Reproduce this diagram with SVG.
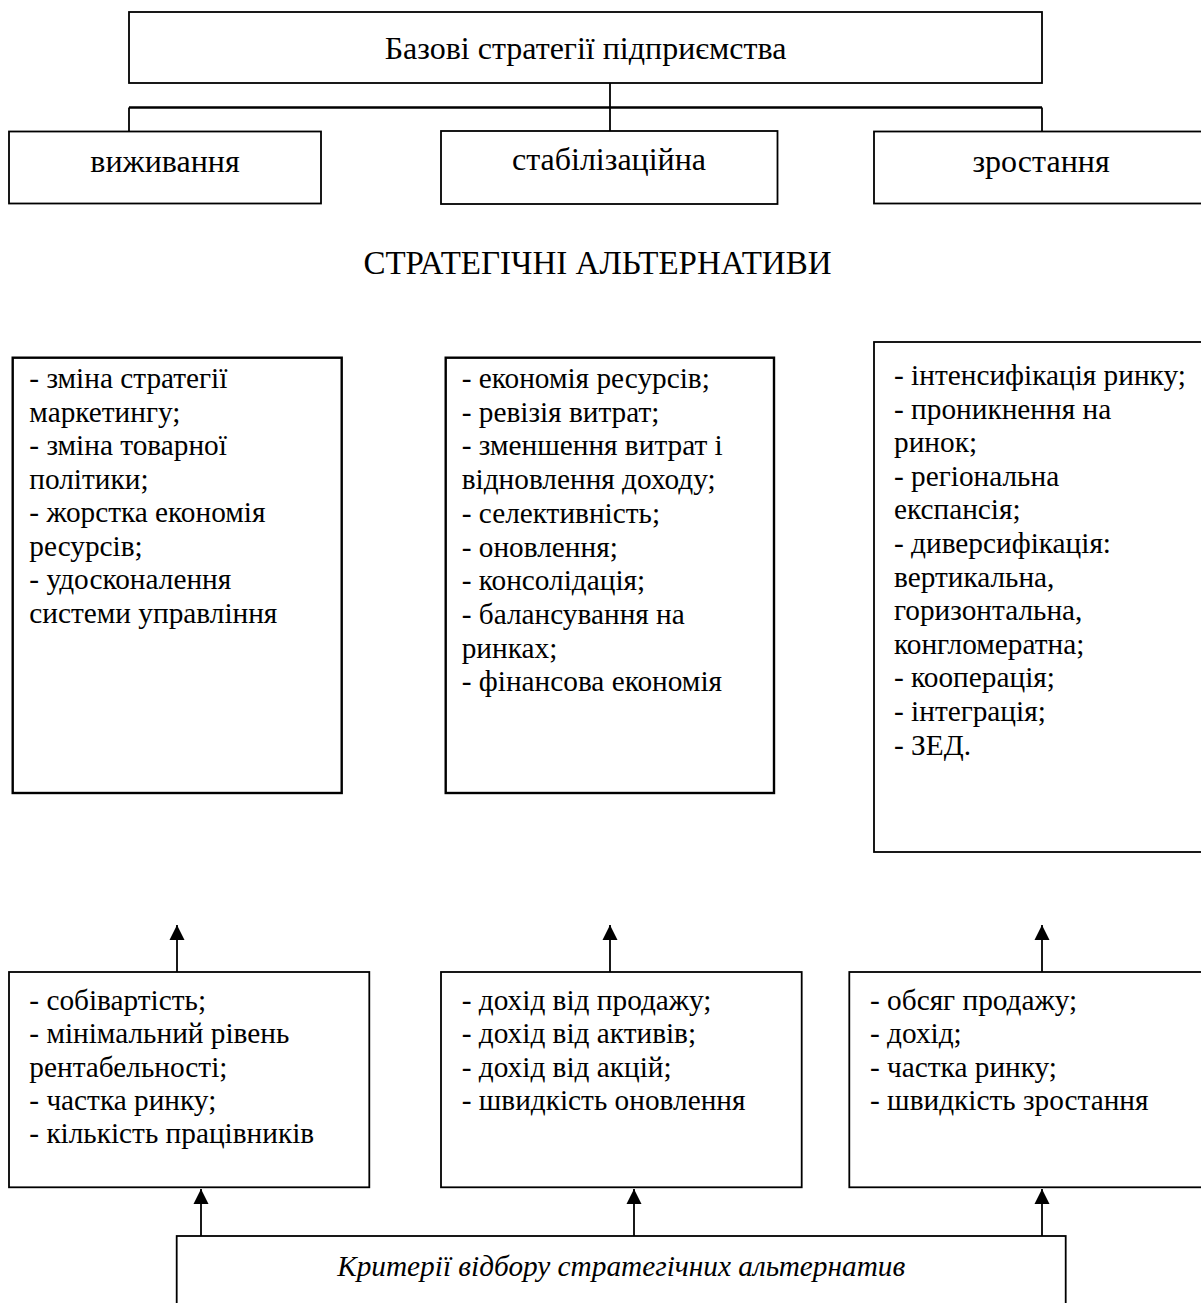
<svg xmlns="http://www.w3.org/2000/svg" width="1201" height="1303" viewBox="0 0 1201 1303">
<style>
.box{fill:#fff;stroke:#000;stroke-width:1.8}
.bold{fill:#fff;stroke:#000;stroke-width:2.4}
.t{font-family:"Liberation Serif","Times New Roman",serif;fill:#000}
.title{font-size:32px}
.caps{font-size:33px}
.list{font-size:29.3px}
.c{text-anchor:middle}
.ln{stroke:#000;stroke-width:1.8;fill:none}
.lnb{stroke:#000;stroke-width:2.6;fill:none}
</style>
<defs>
<marker id="arr" markerUnits="userSpaceOnUse" markerWidth="16" markerHeight="16" viewBox="0 0 16 16" refX="15" refY="8" orient="auto">
<path d="M0,0.5 L15,8 L0,15.5 Z" fill="#000"/>
</marker>
</defs>
<rect width="1201" height="1303" fill="#fff"/>

<g id="connectors">
<line class="ln" x1="610" y1="83" x2="610" y2="131"/>
<line class="lnb" x1="129" y1="107.5" x2="1042" y2="107.5"/>
<line class="ln" x1="129" y1="107.5" x2="129" y2="131"/>
<line class="ln" x1="1042" y1="107.5" x2="1042" y2="131"/>
<line class="ln" x1="177" y1="972" x2="177" y2="925" marker-end="url(#arr)"/>
<line class="ln" x1="610" y1="972" x2="610" y2="925" marker-end="url(#arr)"/>
<line class="ln" x1="1042" y1="972" x2="1042" y2="925" marker-end="url(#arr)"/>
<line class="ln" x1="201" y1="1236" x2="201" y2="1189" marker-end="url(#arr)"/>
<line class="ln" x1="634" y1="1236" x2="634" y2="1189" marker-end="url(#arr)"/>
<line class="ln" x1="1042" y1="1236" x2="1042" y2="1189" marker-end="url(#arr)"/>
</g>

<g id="base">
<rect class="box" x="129" y="12" width="913" height="71"/>
<text class="t title c" x="585.5" y="59">Базові стратегії підприємства</text>
</g>

<g id="survival">
<rect class="box" x="9" y="131.5" width="312" height="72"/>
<text class="t title c" x="165" y="171.5">виживання</text>
</g>

<g id="stabilization">
<rect class="box" x="441" y="131" width="336.5" height="73"/>
<text class="t title c" x="609" y="170">стабілізаційна</text>
</g>

<g id="growth">
<rect class="box" x="874" y="131.5" width="340" height="72"/>
<text class="t title c" x="1041" y="171.5">зростання</text>
</g>

<g id="alternatives-title">
<text class="t caps c" x="597.5" y="274">СТРАТЕГІЧНІ АЛЬТЕРНАТИВИ</text>
</g>

<g id="alt-survival">
<rect class="bold" x="12.7" y="357.7" width="329" height="435.3"/>
<text class="t list">
<tspan x="29.3" y="388">- зміна стратегії</tspan>
<tspan x="29.3" y="421.5">маркетингу;</tspan>
<tspan x="29.3" y="455">- зміна товарної</tspan>
<tspan x="29.3" y="488.5">політики;</tspan>
<tspan x="29.3" y="522">- жорстка економія</tspan>
<tspan x="29.3" y="555.5">ресурсів;</tspan>
<tspan x="29.3" y="589">- удосконалення</tspan>
<tspan x="29.3" y="622.5">системи управління</tspan>
</text>
</g>

<g id="alt-stabilization">
<rect class="bold" x="445.7" y="357.7" width="328.3" height="435.3"/>
<text class="t list">
<tspan x="461.7" y="388">- економія ресурсів;</tspan>
<tspan x="461.7" y="421.7">- ревізія витрат;</tspan>
<tspan x="461.7" y="455.4">- зменшення витрат і</tspan>
<tspan x="461.7" y="489.1">відновлення доходу;</tspan>
<tspan x="461.7" y="522.8">- селективність;</tspan>
<tspan x="461.7" y="556.5">- оновлення;</tspan>
<tspan x="461.7" y="590.2">- консолідація;</tspan>
<tspan x="461.7" y="623.9">- балансування на</tspan>
<tspan x="461.7" y="657.6">ринках;</tspan>
<tspan x="461.7" y="691.3">- фінансова економія</tspan>
</text>
</g>

<g id="alt-growth">
<rect class="box" x="874" y="342" width="340" height="510"/>
<text class="t list">
<tspan x="894" y="385">- інтенсифікація ринку;</tspan>
<tspan x="894" y="418.6">- проникнення на</tspan>
<tspan x="894" y="452.2">ринок;</tspan>
<tspan x="894" y="485.8">- регіональна</tspan>
<tspan x="894" y="519.4">експансія;</tspan>
<tspan x="894" y="553">- диверсифікація:</tspan>
<tspan x="894" y="586.6">вертикальна,</tspan>
<tspan x="894" y="620.2">горизонтальна,</tspan>
<tspan x="894" y="653.8">конгломератна;</tspan>
<tspan x="894" y="687.4">- кооперація;</tspan>
<tspan x="894" y="721">- інтеграція;</tspan>
<tspan x="894" y="754.6">- ЗЕД.</tspan>
</text>
</g>

<g id="crit-survival">
<rect class="box" x="9" y="972" width="360.3" height="215.3"/>
<text class="t list">
<tspan x="29.3" y="1010">- собівартість;</tspan>
<tspan x="29.3" y="1043.3">- мінімальний рівень</tspan>
<tspan x="29.3" y="1076.6">рентабельності;</tspan>
<tspan x="29.3" y="1109.9">- частка ринку;</tspan>
<tspan x="29.3" y="1143.2">- кількість працівників</tspan>
</text>
</g>

<g id="crit-stabilization">
<rect class="box" x="441" y="972" width="360.7" height="215.3"/>
<text class="t list">
<tspan x="461.7" y="1010">- дохід від продажу;</tspan>
<tspan x="461.7" y="1043.3">- дохід від активів;</tspan>
<tspan x="461.7" y="1076.6">- дохід від акцій;</tspan>
<tspan x="461.7" y="1109.9">- швидкість оновлення</tspan>
</text>
</g>

<g id="crit-growth">
<rect class="box" x="849.3" y="972" width="365" height="215.3"/>
<text class="t list">
<tspan x="870" y="1010">- обсяг продажу;</tspan>
<tspan x="870" y="1043.3">- дохід;</tspan>
<tspan x="870" y="1076.6">- частка ринку;</tspan>
<tspan x="870" y="1109.9">- швидкість зростання</tspan>
</text>
</g>

<g id="criteria">
<rect class="box" x="176.7" y="1236" width="889" height="100"/>
<text class="t list c" x="621.2" y="1276" font-style="italic">Критерії відбору стратегічних альтернатив</text>
</g>
</svg>
